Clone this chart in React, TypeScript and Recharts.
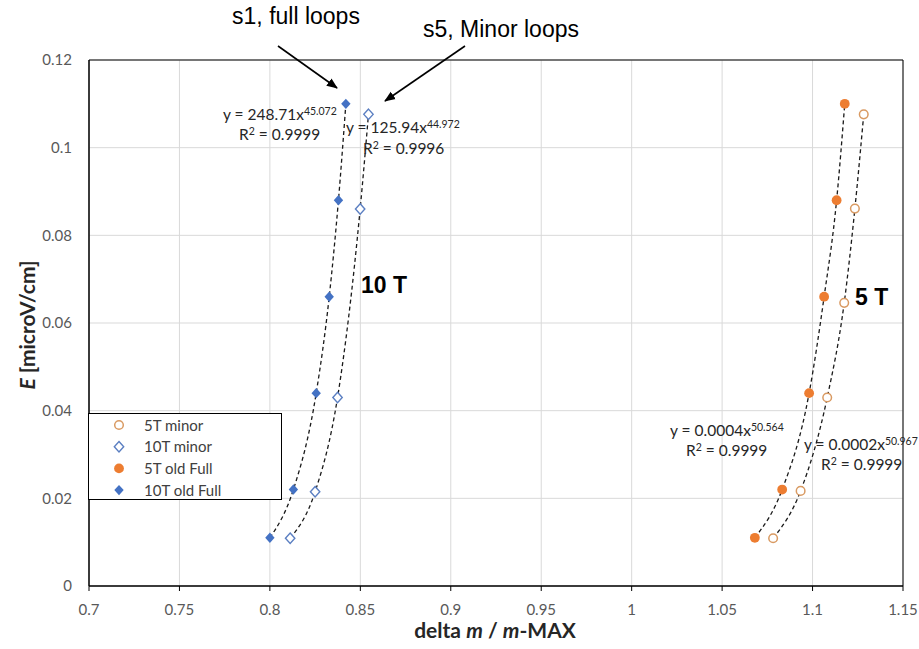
import React from 'react';
import {
  ComposedChart, Scatter, Line, XAxis, YAxis, CartesianGrid, ReferenceArea, Legend,
} from 'recharts';

// delta m / m-MAX against E [microV/cm], one pair of arrays per series
const minor5X = [1.0782, 1.0934, 1.1081, 1.1175, 1.1234, 1.1283];
const minor5Y = [0.0109, 0.0217, 0.043, 0.0646, 0.0861, 0.1076];

const minor10X = [0.8112, 0.825, 0.8374, 0.8499, 0.8545];
const minor10Y = [0.0109, 0.0215, 0.043, 0.086, 0.1076];

const full5X = [1.0681, 1.0832, 1.0981, 1.1064, 1.1133, 1.1178];
const full5Y = [0.011, 0.022, 0.044, 0.066, 0.088, 0.110];

const full10X = [0.8, 0.813, 0.8256, 0.8328, 0.8379, 0.842];
const full10Y = [0.011, 0.022, 0.044, 0.066, 0.088, 0.110];

const xTicks = [0.7, 0.75, 0.8, 0.85, 0.9, 0.95, 1, 1.05, 1.1, 1.15];
const yTicks = [0, 0.02, 0.04, 0.06, 0.08, 0.1, 0.12];

const BLUE = '#4472C4';
const BLUE_OPEN = '#5B7FC2';
const ORANGE = '#ED7D31';
const TAN = '#D99A62';
const FONT = 'Lato, "Open Sans", sans-serif';
const ARIAL = '"Liberation Sans", Arial, sans-serif';

const pts = (xs: number[], ys: number[]) => xs.map((x, i) => ({ x, y: ys[i] }));

const diamond = (cx: number, cy: number) =>
  `M${cx},${cy - 5.2} L${cx + 4.7},${cy} L${cx},${cy + 5.2} L${cx - 4.7},${cy} Z`;

const OpenCircle = ({ cx, cy }: any) => (
  <circle cx={cx} cy={cy} r={4.3} fill="#fff" stroke={TAN} strokeWidth={1.5} />
);
const FilledCircle = ({ cx, cy }: any) => (
  <circle cx={cx} cy={cy} r={4.9} fill={ORANGE} stroke="none" />
);
const OpenDiamond = ({ cx, cy }: any) => (
  <path d={diamond(cx, cy)} fill="#fff" stroke={BLUE_OPEN} strokeWidth={1.4} />
);
const FilledDiamond = ({ cx, cy }: any) => (
  <path d={diamond(cx, cy)} fill={BLUE} stroke="none" />
);

const series = [
  { name: '5T minor', data: pts(minor5X, minor5Y), shape: OpenCircle },
  { name: '10T minor', data: pts(minor10X, minor10Y), shape: OpenDiamond },
  { name: '5T old Full', data: pts(full5X, full5Y), shape: FilledCircle },
  { name: '10T old Full', data: pts(full10X, full10Y), shape: FilledDiamond },
];

function LegendBox() {
  return (
    <svg width={194} height={87} style={{ display: 'block' }}>
      <rect x={0.5} y={0.5} width={193} height={86} fill="#fff" stroke="#000" strokeWidth={1} />
      {series.map((s, i) => {
        const Shape = s.shape;
        const cy = 12 + i * 21.7;
        return (
          <g key={s.name}>
            <Shape cx={31} cy={cy} />
            <text x={56} y={cy + 5.5} fontFamily={FONT} fontSize={15} fill="#404040">{s.name}</text>
          </g>
        );
      })}
    </svg>
  );
}

// fitted power laws written next to the curves
function Equation({ x, y, coef, exp, r2, rx, ry }: any) {
  return (
    <g fontFamily={FONT} fill="#262626">
      <text x={x} y={y} fontSize={15.5}>
        {`y = ${coef}x`}
        <tspan fontSize={10.5} dy={-5.5}>{exp}</tspan>
      </text>
      <text x={rx} y={ry} fontSize={15.5}>
        R<tspan fontSize={10.5} dy={-5.5}>2</tspan><tspan dy={5.5}>{` = ${r2}`}</tspan>
      </text>
    </g>
  );
}

function Overlay() {
  return (
    <svg width={919} height={649} style={{ position: 'absolute', left: 0, top: 0, pointerEvents: 'none' }}>
      <defs>
        <marker id="head" markerWidth="12" markerHeight="12" refX="10" refY="6" orient="auto" markerUnits="userSpaceOnUse">
          <path d="M0,1.5 L11,6 L0,10.5 Z" fill="#000" />
        </marker>
      </defs>
      <g fontFamily={ARIAL} fontSize={23} fill="#000" textAnchor="middle">
        <text x={296} y={24}>s1, full loops</text>
        <text x={501} y={37}>s5, Minor loops</text>
      </g>
      <line x1={278} y1={46} x2={337} y2={88} stroke="#000" strokeWidth={1.6} markerEnd="url(#head)" />
      <line x1={465} y1={46} x2={385} y2={101} stroke="#000" strokeWidth={1.6} markerEnd="url(#head)" />

      <Equation x={223} y={120} coef="248.71" exp="45.072" r2="0.9999" rx={239} ry={140} />
      <Equation x={346} y={133} coef="125.94" exp="44.972" r2="0.9996" rx={363} ry={154} />
      <Equation x={670} y={436} coef="0.0004" exp="50.564" r2="0.9999" rx={686} ry={456} />
      <Equation x={804} y={450} coef="0.0002" exp="50.967" r2="0.9999" rx={821} ry={470} />

      <g fontFamily={ARIAL} fontWeight="bold" fontSize={23} fill="#000">
        <text x={361} y={293}>10 T</text>
        <text x={855} y={305}>5 T</text>
      </g>

      <text x={495} y={638} textAnchor="middle" fontFamily={FONT} fontWeight="bold" fontSize={21} fill="#262626">
        delta <tspan fontStyle="italic">m</tspan> / <tspan fontStyle="italic">m</tspan>-MAX
      </text>
      <text
        x={0} y={0} transform="translate(26,325) rotate(-90)" textAnchor="middle" dominantBaseline="central"
        fontFamily={FONT} fontWeight="bold" fontSize={21} fill="#262626"
      >
        <tspan fontStyle="italic">E</tspan> [microV/cm]
      </text>
    </svg>
  );
}

export default function App() {
  const tick = { fontSize: 15, fill: '#595959', fontFamily: FONT };
  return (
    <div style={{ position: 'absolute', left: 0, top: 0, width: 919, height: 649, background: '#fff' }}>
      <ComposedChart width={919} height={649} margin={{ top: 60, right: 16, bottom: 33, left: 0 }}>
        <CartesianGrid stroke="#D9D9D9" strokeWidth={1} />
        <XAxis
          type="number" dataKey="x" domain={[0.7, 1.15]} ticks={xTicks} allowDataOverflow height={30}
          tick={tick} tickSize={5} tickMargin={13}
          axisLine={{ stroke: '#000' }} tickLine={{ stroke: '#000' }}
        />
        <YAxis
          type="number" dataKey="y" domain={[0, 0.12]} ticks={yTicks} allowDataOverflow width={89}
          tick={tick} tickSize={0} tickMargin={17} tickLine={false}
          axisLine={{ stroke: '#000' }}
        />
        <ReferenceArea x1={0.7} x2={1.15} y1={0} y2={0.12} fill="none" fillOpacity={0} stroke="#000" strokeWidth={1} />
        {series.map((s) => (
          <Scatter
            key={s.name} name={s.name} data={s.data} dataKey="y"
            shape={s.shape} isAnimationActive={false}
          />
        ))}
        {series.map((s) => (
          <Line
            key={`${s.name}-fit`} data={s.data} dataKey="y" type="monotone"
            stroke="#1a1a1a" strokeWidth={1.3} strokeDasharray="4 3"
            dot={false} activeDot={false} legendType="none" isAnimationActive={false}
          />
        ))}
        <Legend
          layout="vertical" align="center" verticalAlign="middle"
          wrapperStyle={{ left: 88, top: 413, width: 194, height: 87 }}
          content={() => <LegendBox />}
        />
      </ComposedChart>
      <Overlay />
    </div>
  );
}
